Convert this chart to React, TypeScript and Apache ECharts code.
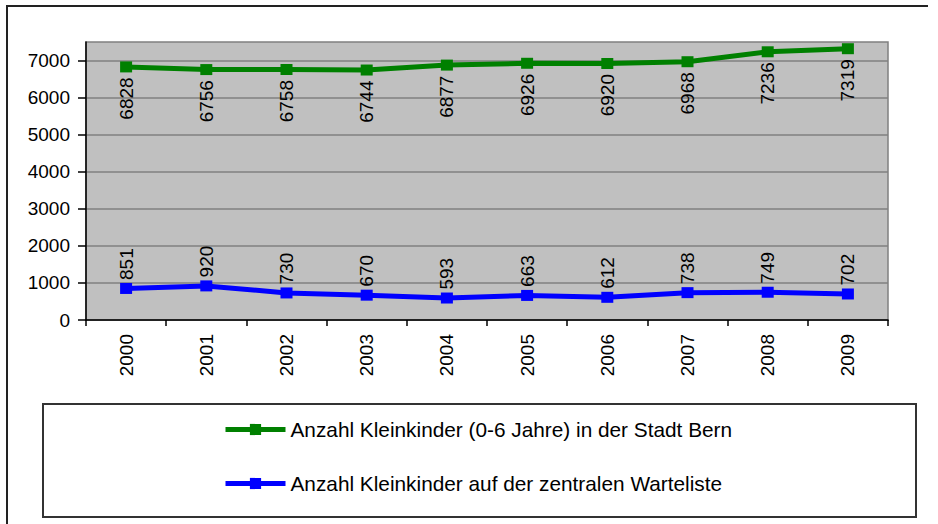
import React, { useEffect, useRef } from "react";
import * as echarts from "echarts";

const years = ["2000", "2001", "2002", "2003", "2004", "2005", "2006", "2007", "2008", "2009"];
const kleinkinder = [6828, 6756, 6758, 6744, 6877, 6926, 6920, 6968, 7236, 7319];
const warteliste = [851, 920, 730, 670, 593, 663, 612, 738, 749, 702];
const yTicks = [0, 1000, 2000, 3000, 4000, 5000, 6000, 7000];
const seriesNames = [
  "Anzahl Kleinkinder (0-6 Jahre) in der Stadt Bern",
  "Anzahl Kleinkinder auf der zentralen Warteliste",
];

const FONT = "'Liberation Sans', Arial, sans-serif";

export default function App() {
  const ref = useRef<HTMLDivElement>(null);
  useEffect(() => {
    document.body.style.margin = "0";
    const chart = echarts.init(ref.current!, null, { renderer: "svg" });
    chart.setOption({
      animation: false,
      textStyle: { fontFamily: FONT },
      grid: {
        left: 86,
        top: 42,
        right: 50,
        bottom: 204,
        show: true,
        backgroundColor: "#c0c0c0",
        borderColor: "#808080",
        borderWidth: 1.5,
      },
      xAxis: {
        type: "category",
        data: years,
        boundaryGap: true,
        axisLine: { lineStyle: { color: "#000", width: 1.5 } },
        axisTick: { show: true, length: 6, lineStyle: { color: "#000", width: 1.5 } },
        axisLabel: {
          rotate: 90,
          fontSize: 19,
          color: "#000",
          margin: 14,
          fontFamily: FONT,
        },
      },
      yAxis: {
        type: "value",
        min: 0,
        max: 7500,
        interval: 1000,
        axisLine: { show: true, lineStyle: { color: "#000", width: 1.5 } },
        axisTick: {
          show: true,
          length: 8,
          customValues: yTicks,
          lineStyle: { color: "#000", width: 1.5 },
        },
        axisLabel: {
          fontSize: 19,
          color: "#000",
          margin: 16,
          customValues: yTicks,
          formatter: (v: number) => String(v),
          fontFamily: FONT,
        },
        splitLine: { show: true, lineStyle: { color: "#808080", width: 1.5 } },
      },
      legend: {
        orient: "vertical",
        left: 223,
        top: 419,
        padding: 0,
        itemWidth: 60,
        itemHeight: 14,
        itemGap: 33,
        lineStyle: { width: 5 },
        textStyle: { fontSize: 20.8, color: "#000", fontFamily: FONT },
        data: seriesNames,
      },
      series: [
        {
          name: seriesNames[0],
          type: "line",
          data: kleinkinder,
          symbol: "rect",
          symbolSize: [12, 11],
          color: "#008000",
          lineStyle: { color: "#008000", width: 5 },
          itemStyle: { color: "#008000" },
          label: {
            show: true,
            position: "bottom",
            rotate: 90,
            align: "right",
            verticalAlign: "middle",
            distance: 5,
            fontSize: 19,
            color: "#000",
            fontFamily: FONT,
          },
        },
        {
          name: seriesNames[1],
          type: "line",
          data: warteliste,
          symbol: "rect",
          symbolSize: [12, 11],
          color: "#0000ff",
          lineStyle: { color: "#0000ff", width: 5 },
          itemStyle: { color: "#0000ff" },
          label: {
            show: true,
            position: "top",
            rotate: 90,
            align: "left",
            verticalAlign: "middle",
            distance: 3,
            fontSize: 19,
            color: "#000",
            fontFamily: FONT,
          },
        },
      ],
      graphic: [
        {
          type: "polyline",
          shape: { points: [[7, 524], [7, 6], [928, 6]] },
          style: { stroke: "#222", lineWidth: 2, fill: null },
          silent: true,
        },
        {
          type: "rect",
          shape: { x: 43, y: 404, width: 873, height: 113 },
          style: { stroke: "#333", lineWidth: 2, fill: null },
          silent: true,
          z: -1,
        },
      ],
    });
    return () => chart.dispose();
  }, []);
  return <div ref={ref} style={{ width: 938, height: 524 }} />;
}
